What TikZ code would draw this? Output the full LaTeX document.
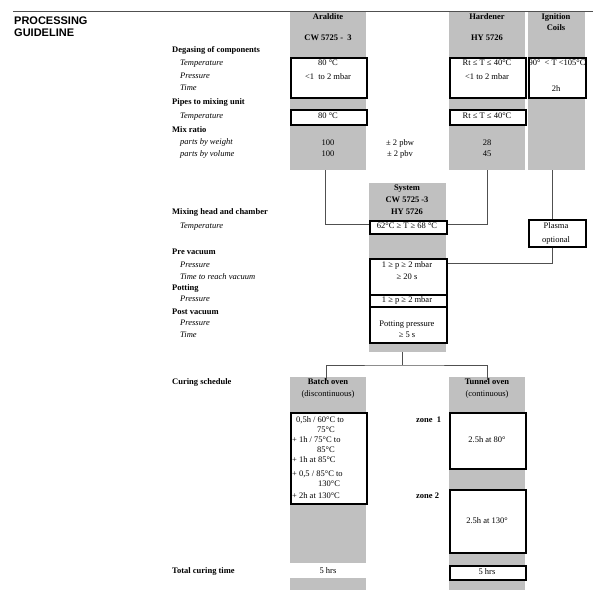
\documentclass[tikz,border=0pt]{standalone}
\usepackage{fontspec}
\setmainfont{Liberation Serif}
\newfontfamily\titlefont{Liberation Sans}
\usetikzlibrary{calc}
\tikzset{>=latex}
\definecolor{colgray}{RGB}{192,192,192}
\definecolor{linegray}{RGB}{80,80,80}
\tikzset{
  txt/.style={inner sep=0pt, text height=6pt, text depth=2pt, font=\fontsize{8.5}{10}\selectfont},
  head/.style={txt, font=\fontsize{8.5}{10}\selectfont\bfseries},
  lbl/.style={head, anchor=west},
  sub/.style={txt, anchor=west, font=\fontsize{8.5}{10}\selectfont\itshape},
  line/.style={txt, anchor=west},
  valbox/.style={draw=black, line width=1.5pt, fill=white, inner sep=0pt, anchor=north west},
  colbg/.style={fill=colgray},
  link/.style={draw=linegray, line width=0.9pt},
}
\begin{document}
\begin{tikzpicture}[x=1pt,y=-1pt]
\useasboundingbox (0,0) rectangle (595,616);
% titel
\draw[linegray, line width=1pt] (13,11) -- (593,11);
\node[anchor=base west, inner sep=0pt, font=\titlefont\fontsize{11}{12}\selectfont\bfseries] (title1) at (14,24) {PROCESSING};
\node[anchor=base west, inner sep=0pt, font=\titlefont\fontsize{11}{12}\selectfont\bfseries] (title2) at (14,36) {GUIDELINE};
% graue spalten
\fill[colbg] (290,12) rectangle (366,170);
\fill[colbg] (449,12) rectangle (525,170);
\fill[colbg] (528,12) rectangle (585,170);
\fill[colbg] (369,183) rectangle (446,352);
\fill[colbg] (290,377) rectangle (366,563);
\fill[colbg] (290,578) rectangle (366,590);
\fill[colbg] (449,377) rectangle (525,590);
% linke beschriftung
\node[lbl] (degas) at (172,50) {Degasing of components};
\node[sub] (degasT) at (180,63) {Temperature};
\node[sub] (degasP) at (180,76.5) {Pressure};
\node[sub] (degasZ) at (180,88.5) {Time};
\node[lbl] (pipes) at (172,102) {Pipes to mixing unit};
\node[sub] (pipesT) at (180,116.5) {Temperature};
\node[lbl] (mix) at (172,130) {Mix ratio};
\node[sub] (mixW) at (180,142.5) {parts by weight};
\node[sub] (mixV) at (180,154.5) {parts by volume};
\node[lbl] (mixhead) at (172,212) {Mixing head and chamber};
\node[sub] (mixheadT) at (180,226) {Temperature};
\node[lbl] (prevac) at (172,252) {Pre vacuum};
\node[sub] (prevacP) at (180,265) {Pressure};
\node[sub] (prevacZ) at (180,277) {Time to reach vacuum};
\node[lbl] (potting) at (172,288) {Potting};
\node[sub] (pottingP) at (180,299.5) {Pressure};
\node[lbl] (postvac) at (172,312) {Post vacuum};
\node[sub] (postvacP) at (180,323.5) {Pressure};
\node[sub] (postvacZ) at (180,335) {Time};
\node[lbl] (curing) at (172,382) {Curing schedule};
\node[lbl] (total) at (172,571) {Total curing time};
% kopfzeilen
\node[head] (araName) at (328,17) {Araldite};
\node[head] (araCode) at (328,38) {CW 5725 -\ \ 3};
\node[head] (hardName) at (487,17) {Hardener};
\node[head] (hardCode) at (487,38) {HY 5726};
\node[head] (ignName) at (556,17) {Ignition};
\node[head] (ignCode) at (556,28) {Coils};
% kaesten
\node[valbox, minimum width=76pt, minimum height=40pt] (araDeg) at (290,57) {};
\node[valbox, minimum width=76pt, minimum height=15pt] (araPipe) at (290,109) {};
\node[valbox, minimum width=76pt, minimum height=40pt] (hardDeg) at (449,57) {};
\node[valbox, minimum width=76pt, minimum height=15pt] (hardPipe) at (449,109) {};
\node[valbox, minimum width=57pt, minimum height=40pt] (ignDeg) at (528,57) {};
\node[valbox, minimum width=77pt, minimum height=13pt] (mixBox) at (369,220) {};
\node[valbox, minimum width=57pt, minimum height=27pt] (plasma) at (528,219) {};
\node[valbox, minimum width=77pt, minimum height=36pt] (preBox) at (369,258) {};
\node[valbox, minimum width=77pt, minimum height=12pt] (potBox) at (369,294) {};
\node[valbox, minimum width=77pt, minimum height=36pt] (postBox) at (369,306) {};
\node[valbox, minimum width=76pt, minimum height=91pt] (batchBox) at (290,412) {};
\node[valbox, minimum width=76pt, minimum height=56pt] (zone1Box) at (449,412) {};
\node[valbox, minimum width=76pt, minimum height=63pt] (zone2Box) at (449,489) {};
\node[valbox, minimum width=76pt, minimum height=14pt] (totalBox) at (449,565) {};
% werte
\node[txt] (araT) at (328,63) {80 °C};
\node[txt] (araP) at (328,77.5) {<1\ \ to 2 mbar};
\node[txt] (hardT) at (487,63) {Rt ≤ T ≤ 40°C};
\node[txt] (hardP) at (487,77.5) {<1 to 2 mbar};
\node[txt] (ignT) at (557,63) {90°\ \ < T <105°C};
\node[txt] (ignZ) at (556,89) {2h};
\node[txt] (araPT) at (328,116.5) {80 °C};
\node[txt] (hardPT) at (487,116.5) {Rt ≤ T ≤ 40°C};
\node[txt] (araW) at (328,143) {100};
\node[txt] (araV) at (328,154.5) {100};
\node[txt] (tolW) at (400,143) {± 2 pbw};
\node[txt] (tolV) at (400,154.5) {± 2 pbv};
\node[txt] (hardW) at (487,143) {28};
\node[txt] (hardV) at (487,154.5) {45};
\node[head] (sysName) at (407,188) {System};
\node[head] (sysCode1) at (407,200) {CW 5725 -3};
\node[head] (sysCode2) at (407,212) {HY 5726};
\node[txt] (mixT) at (407,226.5) {62°C ≥ T ≥ 68 °C};
\node[txt] (plasma1) at (556,226.5) {Plasma};
\node[txt] (plasma2) at (556,240) {optional};
\node[txt] (preP) at (407,265) {1 ≥ p ≥ 2 mbar};
\node[txt] (preZ) at (407,277) {≥ 20 s};
\node[txt] (potP) at (407,300) {1 ≥ p ≥ 2 mbar};
\node[txt] (postP) at (407,324) {Potting pressure};
\node[txt] (postZ) at (407,335) {≥ 5 s};
% aushaertung
\node[head] (batchName) at (328,382) {Batch oven};
\node[txt] (batchKind) at (328,394) {(discontinuous)};
\node[head] (tunnelName) at (487,382) {Tunnel oven};
\node[txt] (tunnelKind) at (487,394) {(continuous)};
\node[line] (b1) at (296,420) {0,5h / 60°C to};
\node[line] (b2) at (317,430) {75°C};
\node[line] (b3) at (292,440) {+ 1h / 75°C to};
\node[line] (b4) at (317,450) {85°C};
\node[line] (b5) at (292,460) {+ 1h at 85°C};
\node[line] (b6) at (292,474) {+ 0,5 / 85°C to};
\node[line] (b7) at (318,484) {130°C};
\node[line] (b8) at (292,496) {+ 2h at 130°C};
\node[lbl] (zone1) at (416,420) {zone\ \ 1};
\node[lbl] (zone2) at (416,496) {zone 2};
\node[txt] (zone1T) at (487,440) {2.5h at 80°};
\node[txt] (zone2T) at (487,521) {2.5h at 130°};
\node[txt] (batchTot) at (328,571) {5 hrs};
\node[txt] (tunnelTot) at (487,572) {5 hrs};
% verbindungen
\coordinate (araFoot) at (325,170);
\coordinate (hardFoot) at (487,170);
\coordinate (ignFoot) at (552,170);
\coordinate (preIn) at (448,263);
\coordinate (sysFoot) at (402,352);
\coordinate (split) at (402,365);
\coordinate (batchIn) at (326,380);
\coordinate (tunnelIn) at (487,380);
\draw[link] (araFoot) |- ([yshift=3pt]mixBox.west);
\draw[link] (hardFoot) |- ([yshift=3pt]mixBox.east);
\draw[link] (ignFoot) -- (ignFoot |- plasma.north);
\draw[link] (ignFoot |- plasma.south) |- (preIn);
\draw[link] (sysFoot) -- (split);
\draw[link] (batchIn) |- (split) -| (tunnelIn);
\end{tikzpicture}
\end{document}
